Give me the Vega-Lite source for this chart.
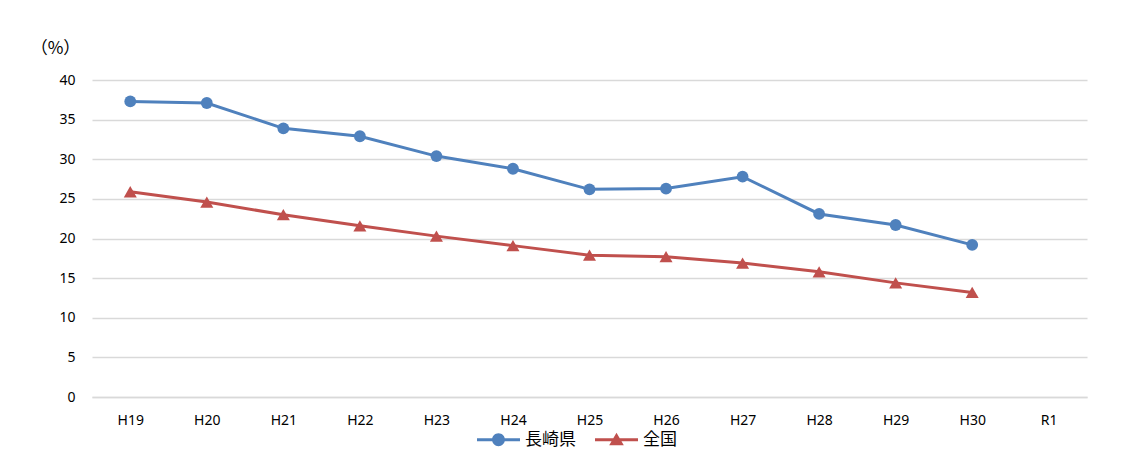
{
  "$schema": "https://vega.github.io/schema/vega-lite/v6.json",
  "width": 995,
  "height": 317,
  "autosize": {"type": "none"},
  "padding": {"left": 92, "top": 80, "right": 44, "bottom": 68},
  "background": "white",
  "config": {
    "view": {"stroke": null},
    "font": "Noto Sans"
  },
  "data": {
    "values": [
      {"year": "H19", "series": "長崎県", "value": 37.3},
      {"year": "H20", "series": "長崎県", "value": 37.1},
      {"year": "H21", "series": "長崎県", "value": 33.9},
      {"year": "H22", "series": "長崎県", "value": 32.9},
      {"year": "H23", "series": "長崎県", "value": 30.4},
      {"year": "H24", "series": "長崎県", "value": 28.8},
      {"year": "H25", "series": "長崎県", "value": 26.2},
      {"year": "H26", "series": "長崎県", "value": 26.3},
      {"year": "H27", "series": "長崎県", "value": 27.8},
      {"year": "H28", "series": "長崎県", "value": 23.1},
      {"year": "H29", "series": "長崎県", "value": 21.7},
      {"year": "H30", "series": "長崎県", "value": 19.2},
      {"year": "H19", "series": "全国", "value": 25.9},
      {"year": "H20", "series": "全国", "value": 24.6},
      {"year": "H21", "series": "全国", "value": 23.0},
      {"year": "H22", "series": "全国", "value": 21.6},
      {"year": "H23", "series": "全国", "value": 20.3},
      {"year": "H24", "series": "全国", "value": 19.1},
      {"year": "H25", "series": "全国", "value": 17.9},
      {"year": "H26", "series": "全国", "value": 17.7},
      {"year": "H27", "series": "全国", "value": 16.9},
      {"year": "H28", "series": "全国", "value": 15.8},
      {"year": "H29", "series": "全国", "value": 14.4},
      {"year": "H30", "series": "全国", "value": 13.2}
    ]
  },
  "encoding": {
    "x": {
      "field": "year",
      "type": "nominal",
      "sort": null,
      "scale": {
        "type": "point",
        "padding": 0.5,
        "domain": ["H19","H20","H21","H22","H23","H24","H25","H26","H27","H28","H29","H30","R1"]
      },
      "axis": {
        "title": null,
        "labelAngle": 0,
        "labelFont": "Noto Sans",
        "labelFontSize": 14,
        "labelColor": "#000000",
        "labelPadding": 16,
        "ticks": false,
        "grid": false,
        "domainColor": "#d9d9d9",
        "domainWidth": 1.5
      }
    },
    "y": {
      "field": "value",
      "type": "quantitative",
      "scale": {"domain": [0, 40], "nice": false, "zero": true},
      "axis": {
        "values": [0,5,10,15,20,25,30,35,40],
        "title": "（%）",
        "titleAngle": 0,
        "titleAlign": "center",
        "titleBaseline": "middle",
        "titleX": -37,
        "titleY": -32,
        "titleFont": "Noto Sans CJK JP",
        "titleFontSize": 17,
        "titleFontWeight": "normal",
        "titleColor": "#000000",
        "labelFont": "Noto Sans",
        "labelFontSize": 14,
        "labelColor": "#000000",
        "labelPadding": 17,
        "ticks": false,
        "domain": false,
        "grid": true,
        "gridColor": "#d9d9d9",
        "gridWidth": 1.3
      }
    }
  },
  "layer": [
    {
      "transform": [{"filter": "datum.series === '長崎県'"}],
      "mark": {"type": "line", "color": "#4f81bd", "strokeWidth": 3}
    },
    {
      "transform": [{"filter": "datum.series === '長崎県'"}],
      "mark": {"type": "point", "shape": "circle", "filled": true, "opacity": 1, "color": "#4f81bd", "size": 140}
    },
    {
      "transform": [{"filter": "datum.series === '全国'"}],
      "mark": {"type": "line", "color": "#c0504d", "strokeWidth": 3}
    },
    {
      "transform": [{"filter": "datum.series === '全国'"}],
      "mark": {"type": "point", "shape": "triangle-up", "filled": true, "opacity": 1, "color": "#c0504d", "size": 170}
    },
    {
      "transform": [{"filter": "false"}],
      "mark": {"type": "point", "filled": true, "opacity": 1},
      "encoding": {
        "color": {
          "field": "series",
          "type": "nominal",
          "scale": {"domain": ["長崎県", "全国"], "range": ["#4f81bd", "#c0504d"]},
          "legend": {
            "title": null,
            "orient": "none",
            "direction": "horizontal",
            "legendX": 385,
            "legendY": 338,
            "symbolSize": 1849,
            "symbolStrokeWidth": 0,
            "labelFont": "Noto Sans CJK JP",
            "labelFontSize": 17,
            "labelColor": "#000000",
            "labelOffset": 5,
            "columnPadding": 19
          }
        },
        "shape": {
          "field": "series",
          "type": "nominal",
          "scale": {
            "domain": ["長崎県", "全国"],
            "range": [
              "M-1,-0.07H1V0.07H-1Z M-0.3,0A0.3,0.3 0 1,1 0.3,0A0.3,0.3 0 1,1 -0.3,0Z",
              "M-1,-0.07H1V0.07H-1Z M0,-0.32L0.34,0.26L-0.34,0.26Z"
            ]
          },
          "legend": {
            "title": null,
            "orient": "none",
            "direction": "horizontal",
            "legendX": 385,
            "legendY": 338,
            "symbolSize": 1849,
            "symbolStrokeWidth": 0,
            "labelFont": "Noto Sans CJK JP",
            "labelFontSize": 17,
            "labelColor": "#000000",
            "labelOffset": 5,
            "columnPadding": 19
          }
        }
      }
    }
  ]
}
